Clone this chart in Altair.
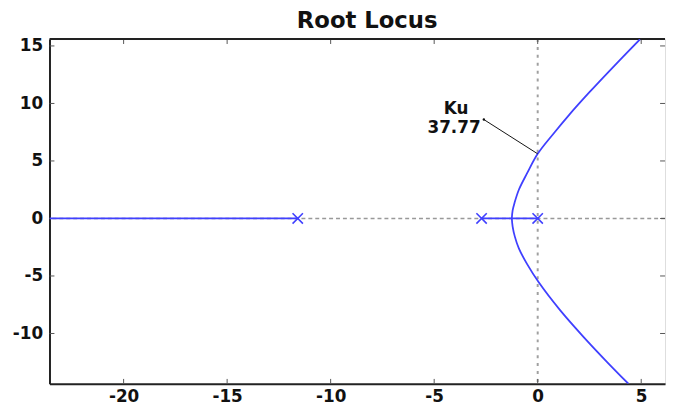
import altair as alt
import pandas as pd

# ---- data ----
pole_x = [-11.59, -2.71, 0.0]
pole_y = [0.0, 0.0, 0.0]

# real-axis locus segments
seg_left_x = [-23.58, -11.59]
seg_mid_x = [-2.71, 0.0]

# complex branches
upper_x = [-1.25, -1.21, -1.12, -0.91, -0.51, 0.0, 0.77, 1.5, 2.5, 3.47, 4.94]
upper_y = [0.0, 0.7, 1.35, 2.5, 3.94, 5.62, 7.39, 8.97, 10.98, 12.84, 15.58]
lower_x = [-1.25, -1.21, -1.1, -0.91, -0.51, 0.05, 1.09, 2.21, 3.33, 4.38]
lower_y = [0.0, -0.7, -1.6, -2.6, -3.97, -5.55, -7.99, -10.29, -12.44, -14.37]

# annotation
ku_line_x = [-2.6, 0.0]
ku_line_y = [8.6, 5.62]
ku_text = ["Ku", "37.77"]
ku_text_x = [-3.94, -4.04]
ku_text_y = [9.5, 7.9]

x_ticks = [-20, -15, -10, -5, 0, 5]
y_ticks = [-10, -5, 0, 5, 10, 15]
x_domain = [-23.58, 6.15]
y_domain = [-14.38, 15.6]

W, H = 623, 349
BLUE = "#4040ff"
FONT = "DejaVu Sans"

rows = []
rows += [{"x": v, "y": 0.0, "b": "left"} for v in seg_left_x]
rows += [{"x": v, "y": 0.0, "b": "mid"} for v in seg_mid_x]
rows += [{"x": a, "y": b, "b": "upper"} for a, b in zip(upper_x, upper_y)]
rows += [{"x": a, "y": b, "b": "lower"} for a, b in zip(lower_x, lower_y)]
locus_df = pd.DataFrame(rows)
locus_df["o"] = range(len(locus_df))

poles_df = pd.DataFrame({"x": pole_x, "y": pole_y})
ku_line_df = pd.DataFrame({"x": ku_line_x, "y": ku_line_y})
ku_text_df = pd.DataFrame({"x": ku_text_x, "y": ku_text_y, "t": ku_text})
xt_df = pd.DataFrame({"x": x_ticks})
yt_df = pd.DataFrame({"y": y_ticks})
zero_x_df = pd.DataFrame({"x": [0.0]})
zero_y_df = pd.DataFrame({"y": [0.0]})

common_axis = dict(grid=False, ticks=False, tickSize=0, domain=True,
                   domainWidth=2, domainColor="#222", labelFont=FONT, labelFontSize=17,
                   labelFontWeight="bold", labelColor="#111", title=None, labelFlush=False,
                   labelExpr="'' + datum.value")
x_axis = alt.Axis(values=x_ticks, labelPadding=5, **common_axis)
y_axis = alt.Axis(values=y_ticks, labelPadding=7, **common_axis)


def X():
    return alt.X("x:Q", scale=alt.Scale(domain=x_domain, nice=False, zero=False), axis=x_axis)


def Y():
    return alt.Y("y:Q", scale=alt.Scale(domain=y_domain, nice=False, zero=False), axis=y_axis)


vdot = alt.Chart(zero_x_df).mark_rule(color="#a0a0a0", strokeWidth=2, strokeDash=[3, 5]).encode(x=X())
hdash = alt.Chart(zero_y_df).mark_rule(color="#999999", strokeWidth=1.4, strokeDash=[4, 3]).encode(y=Y())

locus = alt.Chart(locus_df).mark_line(color=BLUE, strokeWidth=1.8, clip=True,
                                      interpolate="catmull-rom").encode(
    x=X(), y=Y(), detail="b:N", order="o:Q")

poles = alt.Chart(poles_df).mark_point(
    shape="M-1,-1L1,1M-1,1L1,-1", size=110, filled=False, color=BLUE, strokeWidth=1.6, opacity=1
).encode(x=X(), y=Y())

ku_line = alt.Chart(ku_line_df).mark_line(color="#111", strokeWidth=1).encode(x=X(), y=Y())
ku_dot = alt.Chart(ku_line_df.iloc[[0]]).mark_point(color="#111", size=6, filled=True, opacity=1).encode(x=X(), y=Y())
ku_txt = alt.Chart(ku_text_df).mark_text(font=FONT, fontSize=17, fontWeight="bold", color="#111").encode(
    x=X(), y=Y(), text="t:N")

tick_col = "#555"
bt = alt.Chart(xt_df).mark_rule(color=tick_col, strokeWidth=1).encode(x=X(), y=alt.value(H), y2=alt.value(H - 5))
tt = alt.Chart(xt_df).mark_rule(color=tick_col, strokeWidth=1).encode(x=X(), y=alt.value(0), y2=alt.value(5))
lt = alt.Chart(yt_df).mark_rule(color=tick_col, strokeWidth=1).encode(y=Y(), x=alt.value(0), x2=alt.value(5))
rt = alt.Chart(yt_df).mark_rule(color=tick_col, strokeWidth=1).encode(y=Y(), x=alt.value(W), x2=alt.value(W - 5))
top_border = alt.Chart(zero_y_df).mark_rule(color="#222", strokeWidth=2).encode(
    x=alt.value(0), x2=alt.value(W), y=alt.value(0))

chart = alt.layer(vdot, hdash, bt, tt, lt, rt, top_border, locus, poles, ku_line, ku_dot, ku_txt).properties(
    width=W, height=H,
    title=alt.TitleParams("Root Locus", font=FONT, fontSize=23, fontWeight="bold", color="#111",
                          offset=4, dx=10, anchor="middle"),
    autosize=alt.AutoSizeParams(type="none"),
    padding={"left": 42, "top": 29, "right": 2, "bottom": 22},
).configure_view(stroke=None).configure(background="white")

chart.save("out.html", embed_options={"renderer": "svg", "actions": False})
